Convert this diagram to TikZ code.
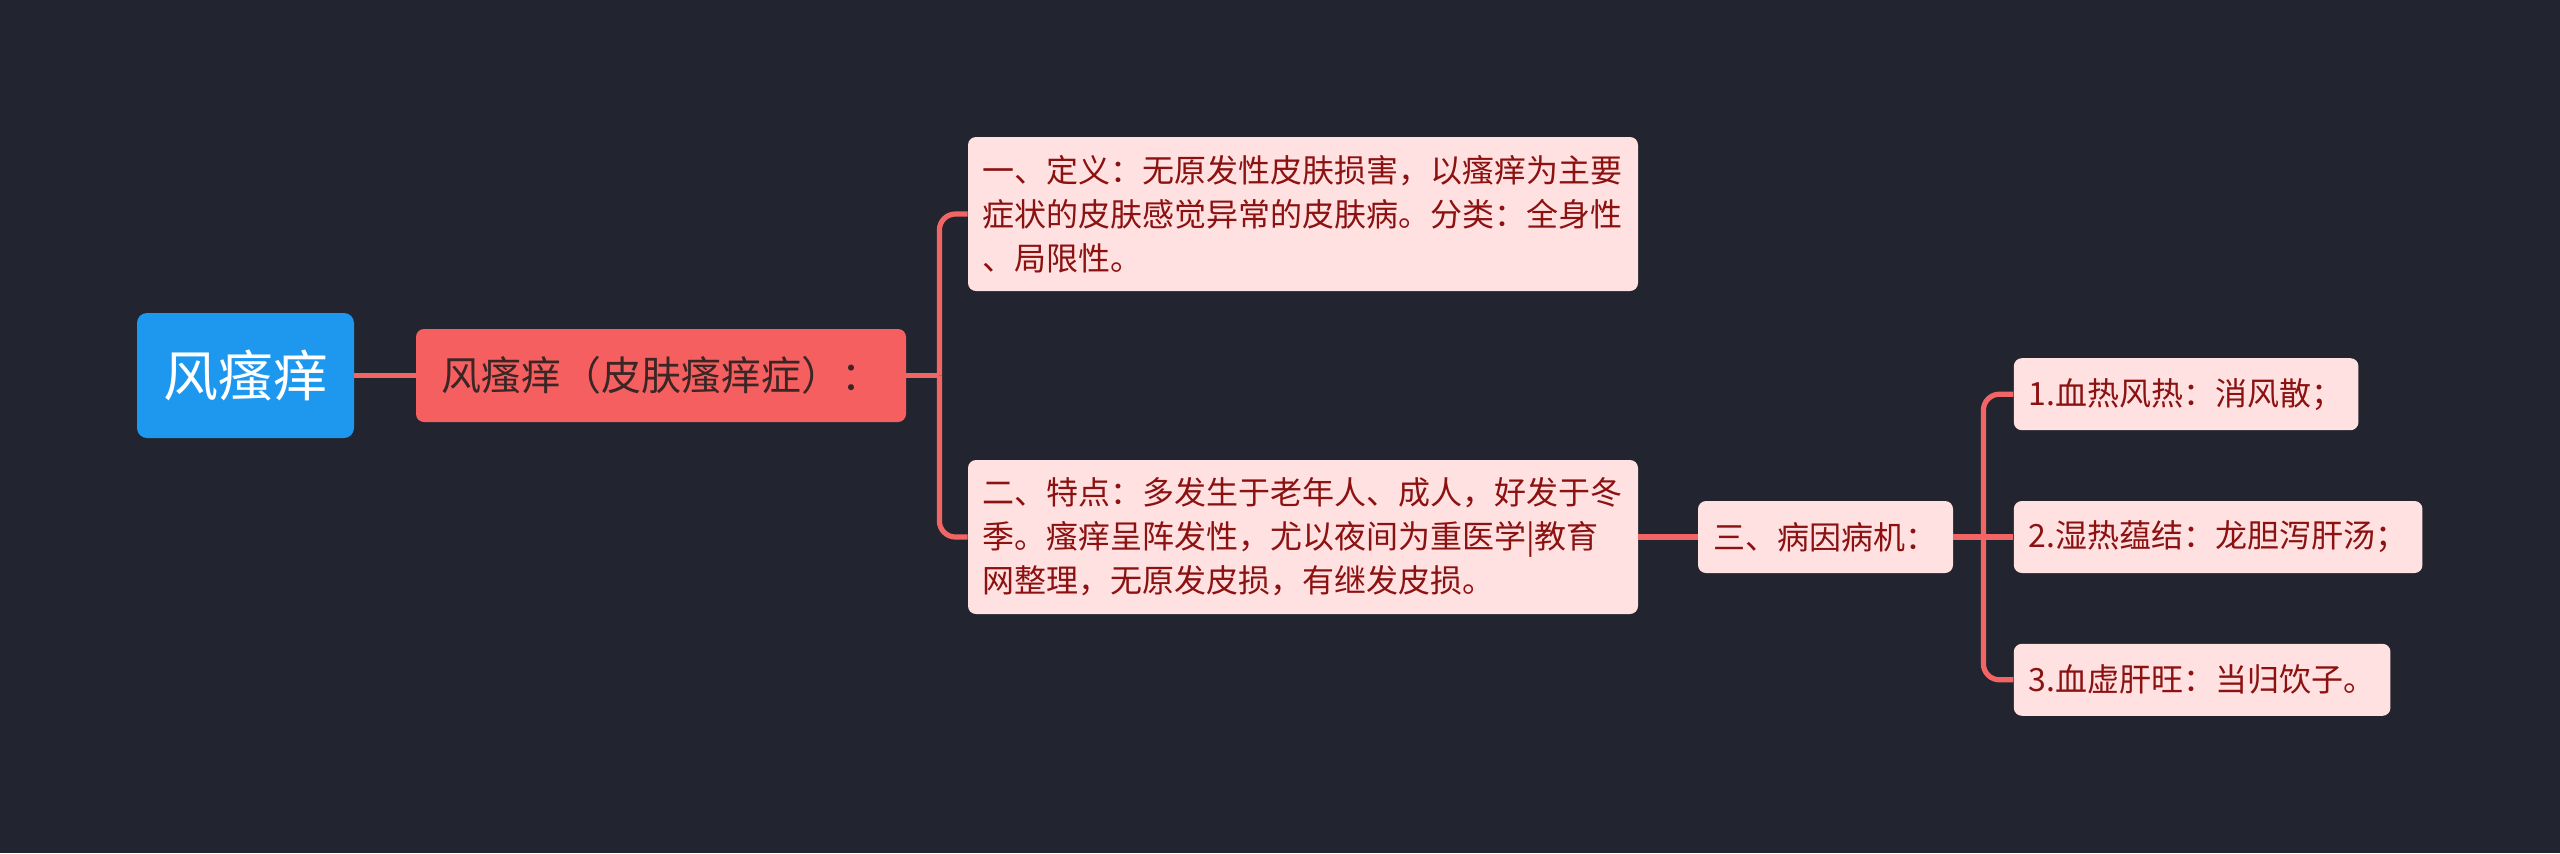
\documentclass[tikz,border=0pt]{standalone}
\usepackage{fontspec}
\setmainfont{Noto Sans CJK SC}
\usetikzlibrary{positioning}
\definecolor{bgdark}{HTML}{22252F}
\definecolor{rootblue}{HTML}{1E98EF}
\definecolor{subred}{HTML}{F65F5F}
\definecolor{subtext}{HTML}{3B2626}
\definecolor{leafpink}{HTML}{FFE1E1}
\definecolor{leaftext}{HTML}{8C1111}
\definecolor{linkred}{HTML}{F26565}

\begin{document}
\begin{tikzpicture}
    % Define styles
    \tikzstyle{central} = [rectangle, rounded corners=5pt, minimum width=108.5pt, minimum height=62.5pt, inner sep=0pt, text centered, fill=rootblue, text=white, font=\fontsize{27.5pt}{33pt}\selectfont]
    \tikzstyle{mainbranch} = [rectangle, rounded corners=4pt, minimum width=245pt, minimum height=46.5pt, inner sep=0pt, text centered, fill=subred, text=subtext, font=\fontsize{20pt}{24pt}\selectfont]
    \tikzstyle{leaf} = [rectangle, rounded corners=4pt, minimum height=36pt, inner xsep=7.5pt, inner ysep=0pt, fill=leafpink, text=leaftext, font=\fontsize{16pt}{22pt}\selectfont]
    \tikzstyle{leafwide} = [leaf, text width=321pt, inner xsep=7pt, minimum height=77pt, align=left]
    \tikzstyle{link} = [draw, line width=2.6pt, linkred]

    % Background
    \fill [bgdark] (0,0) rectangle (1280pt,-426.5pt);

    % Place nodes
    \node [central] (fsy) at (122.75pt,-187.75pt) {风瘙痒};
    \node [mainbranch, right of=fsy, node distance=207.75pt] (pfsy) {风瘙痒（皮肤瘙痒症）：};
    \node [leafwide, right of=pfsy, node distance=321pt, yshift=80.75pt] (dingyi) {一、定义：无原发性皮肤损害，以瘙痒为主要\\症状的皮肤感觉异常的皮肤病。分类：全身性\\、局限性。};
    \node [leafwide, below of=dingyi, node distance=161.5pt] (tedian) {二、特点：多发生于老年人、成人，好发于冬\\季。瘙痒呈阵发性，尤以夜间为重医学|教育\\网整理，无原发皮损，有继发皮损。};
    \node [leaf, right of=tedian, node distance=261.25pt, minimum width=127.5pt] (bingyin) {三、病因病机：};
    \node [leaf, right=30pt of bingyin] (shire) {2.湿热蕴结：龙胆泻肝汤；};
    \node [leaf, above=35pt of shire.north west, anchor=south west] (xuere) {1.血热风热：消风散；};
    \node [leaf, below=35pt of shire.south west, anchor=north west] (xuxu) {3.血虚肝旺：当归饮子。};

    % Draw edges
    \path (pfsy.east) ++(16.5pt,0) coordinate (pfork);
    \path (bingyin.east) ++(15pt,0) coordinate (bfork);
    \path [link] (fsy) -- (pfsy);
    \path [link] (pfsy.east) -- (pfork);
    \path [link, rounded corners=8pt] (pfork) |- (dingyi.west);
    \path [link, rounded corners=8pt] (pfork) |- (tedian.west);
    \path [link] (tedian) -- (bingyin);
    \path [link] (bingyin) -- (shire);
    \path [link, rounded corners=8pt] (bfork) |- (xuere.west);
    \path [link, rounded corners=8pt] (bfork) |- (xuxu.west);
\end{tikzpicture}
\end{document}
